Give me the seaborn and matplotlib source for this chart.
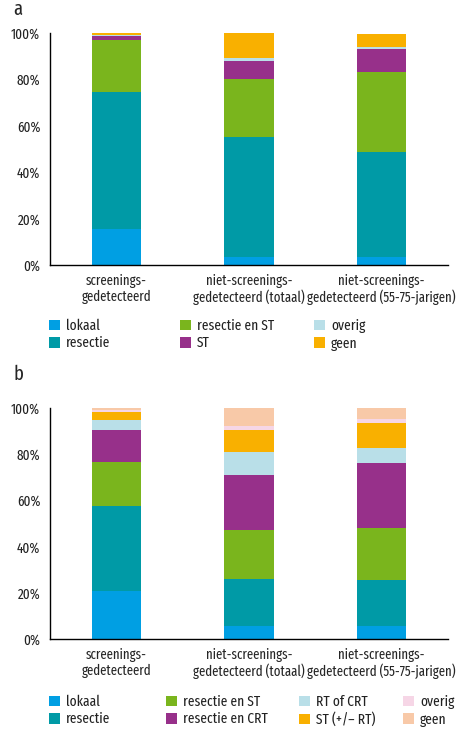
import numpy as np
import pandas as pd
import matplotlib
matplotlib.use('Agg')
from matplotlib import pyplot as plt
from matplotlib.patches import Patch
import seaborn as sns

sns.set_style('white')
plt.rcParams['font.family'] = ['Fira Sans Extra Condensed', 'DejaVu Sans']
plt.rcParams['font.size'] = 10

# categorieën (x-as)
categories = ['screenings-\ngedetecteerd',
              'niet-screenings-\ngedetecteerd (totaal)',
              'niet-screenings-\ngedetecteerd (55-75-jarigen)']

# paneel a: percentages per behandeling
a_series = ['lokaal', 'resectie', 'resectie en ST', 'ST', 'overig', 'geen']
a_lokaal = [15.5, 3.4, 3.4]
a_resectie = [59.0, 51.6, 45.4]
a_resectie_st = [22.5, 25.2, 34.4]
a_st = [1.8, 7.9, 9.9]
a_overig = [0.4, 1.3, 0.9]
a_geen = [0.8, 10.6, 5.6]
a_colors = ['#009fe3', '#009aa6', '#7ab51d', '#97308a', '#b9dfe8', '#f9b000']

# paneel b
b_series = ['lokaal', 'resectie', 'resectie en ST', 'resectie en CRT',
            'RT of CRT', 'ST (+/\u2013 RT)', 'overig', 'geen']
b_lokaal = [20.6, 5.5, 5.5]
b_resectie = [37.0, 20.5, 20.1]
b_resectie_st = [18.9, 21.2, 22.5]
b_resectie_crt = [13.9, 23.7, 28.0]
b_rt_crt = [4.3, 10.0, 6.5]
b_st_rt = [3.6, 9.5, 10.8]
b_overig = [0.8, 1.7, 2.0]
b_geen = [0.9, 7.9, 4.6]
b_colors = ['#009fe3', '#009aa6', '#7ab51d', '#97308a', '#b9dfe8', '#f9b000',
            '#f6d6e6', '#f8c9a8']

a_df = pd.DataFrame(dict(zip(a_series, [a_lokaal, a_resectie, a_resectie_st,
                                        a_st, a_overig, a_geen])), index=categories)
b_df = pd.DataFrame(dict(zip(b_series, [b_lokaal, b_resectie, b_resectie_st,
                                        b_resectie_crt, b_rt_crt, b_st_rt,
                                        b_overig, b_geen])), index=categories)


def stacked(ax, df, colors):
    cum = df.cumsum(axis=1)
    # van boven naar beneden tekenen, zodat de lagen elkaar overlappen
    for i in reversed(range(len(df.columns))):
        sns.barplot(x=list(df.index), y=cum.iloc[:, i].values, color=colors[i],
                    width=0.37, saturation=1, ax=ax, linewidth=0)
    ax.set_xlim(-0.5, 2.5)
    ax.set_ylim(0, 100)
    ax.set_yticks(np.arange(0, 101, 20))
    ax.set_yticklabels([f'{v}%' for v in range(0, 101, 20)])
    ax.set_xticks([-0.5, 0.5, 1.5, 2.5])
    ax.set_xticklabels([])
    ax.set_xticks([0, 1, 2], minor=True)
    ax.set_xticklabels(list(df.index), minor=True, linespacing=1.15)
    ax.tick_params(axis='x', which='minor', length=0, pad=6)
    ax.tick_params(axis='x', which='major', length=5, width=1, direction='out', color='black')
    ax.tick_params(axis='y', length=4, width=1, direction='out', color='black', pad=3)
    ax.tick_params(labelsize=10.3, labelcolor='#222222')
    for s in ['top', 'right']:
        ax.spines[s].set_visible(False)
    for s in ['left', 'bottom']:
        ax.spines[s].set_color('black')
        ax.spines[s].set_linewidth(1)
    ax.set_ylabel('')
    ax.set_xlabel('')


def legend_cols(fig, names, colors, xs, ytop, rows=2):
    for c, x in enumerate(xs):
        idx = range(c * rows, min((c + 1) * rows, len(names)))
        handles = [Patch(facecolor=colors[i], edgecolor='none') for i in idx]
        labels = [names[i] for i in idx]
        fig.legend(handles, labels, loc='upper left', bbox_to_anchor=(x, ytop),
                   frameon=False, handlelength=0.72, handleheight=0.72,
                   handletextpad=0.45, labelspacing=0.2, borderpad=0,
                   borderaxespad=0, fontsize=10.5, labelcolor='#222222')


fig = plt.figure(figsize=(4.67, 7.39), dpi=100)
W, H = 467, 739

ax_a = fig.add_axes([50 / W, 1 - 265 / H, 398 / W, 232 / H])
stacked(ax_a, a_df, a_colors)
ax_b = fig.add_axes([50 / W, 1 - 639 / H, 398 / W, 231 / H])
stacked(ax_b, b_df, b_colors)

fig.text(18 / W, 1 - 15 / H, 'a', fontsize=14.5, ha='center', va='baseline')
fig.text(18 / W, 1 - 380 / H, 'b', fontsize=14.5, ha='center', va='baseline')

legend_cols(fig, a_series, a_colors, [49 / W, 180 / W, 314 / W], 1 - 319 / H)
legend_cols(fig, b_series, b_colors, [49 / W, 166 / W, 299 / W, 403 / W], 1 - 695 / H)

fig.savefig('out.png', dpi=100, facecolor='white')
